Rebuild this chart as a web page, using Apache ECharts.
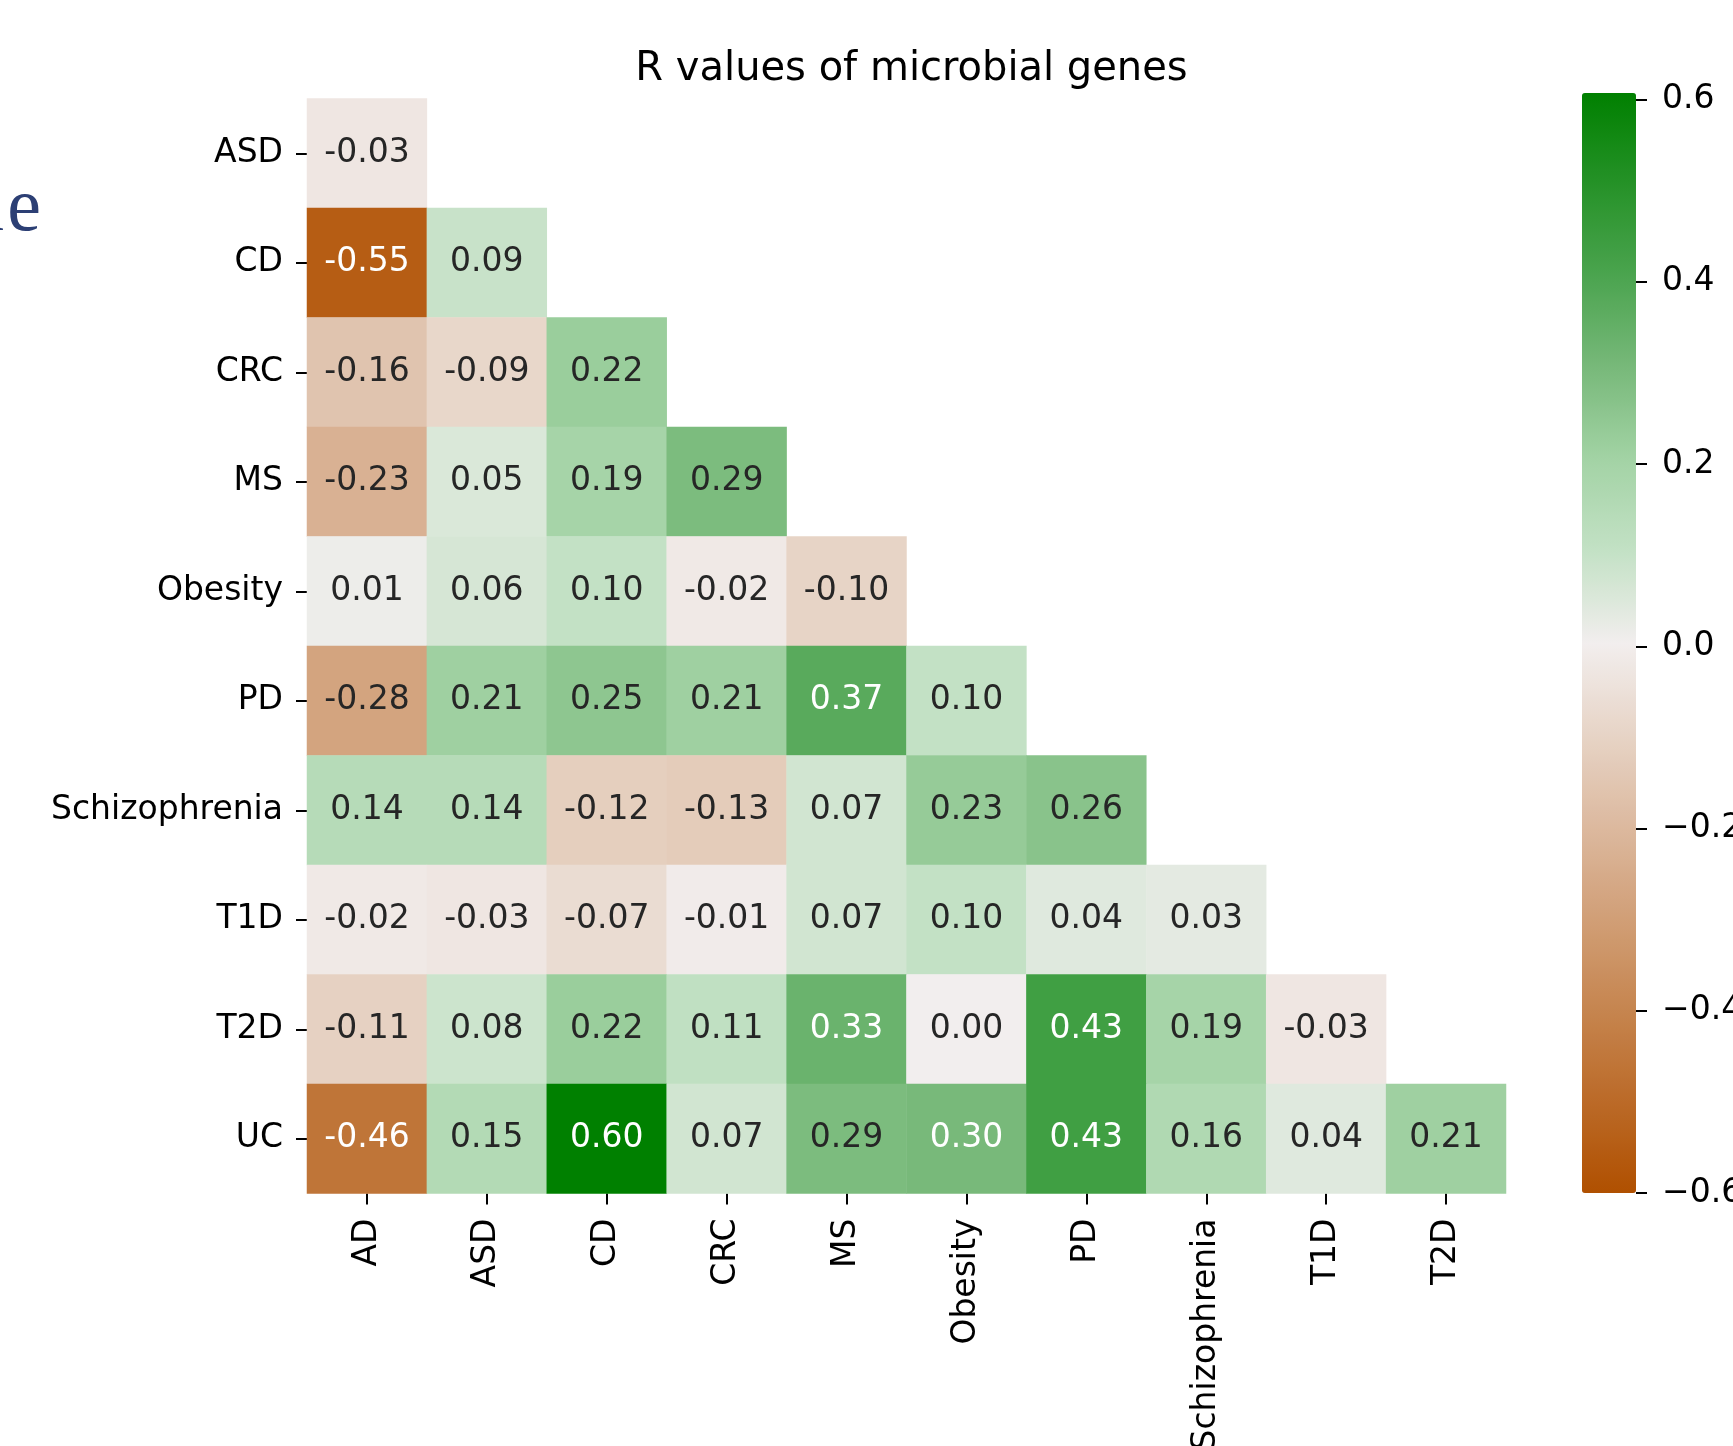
<!DOCTYPE html>
<html>
<head>
<meta charset="utf-8">
<script src="https://cdn.jsdelivr.net/npm/echarts@6/dist/echarts.min.js"></script>
<style>
  html, body { margin: 0; padding: 0; background: #ffffff; }
  #chart { width: 1733px; height: 1446px; }
</style>
</head>
<body>
<div id="chart"></div>
<script>
// Column and row categories of the lower-triangular correlation matrix
const colNames = ['AD', 'ASD', 'CD', 'CRC', 'MS', 'Obesity', 'PD', 'Schizophrenia', 'T1D', 'T2D'];
const rowNames = ['ASD', 'CD', 'CRC', 'MS', 'Obesity', 'PD', 'Schizophrenia', 'T1D', 'T2D', 'UC'];

// R values, one array per row (only the lower triangle is shown)
const rASD = [-0.03];
const rCD = [-0.55, 0.09];
const rCRC = [-0.16, -0.09, 0.22];
const rMS = [-0.23, 0.05, 0.19, 0.29];
const rObesity = [0.01, 0.06, 0.10, -0.02, -0.10];
const rPD = [-0.28, 0.21, 0.25, 0.21, 0.37, 0.10];
const rSchizophrenia = [0.14, 0.14, -0.12, -0.13, 0.07, 0.23, 0.26];
const rT1D = [-0.02, -0.03, -0.07, -0.01, 0.07, 0.10, 0.04, 0.03];
const rT2D = [-0.11, 0.08, 0.22, 0.11, 0.33, 0.00, 0.43, 0.19, -0.03];
const rUC = [-0.46, 0.15, 0.60, 0.07, 0.29, 0.30, 0.43, 0.16, 0.04, 0.21];

// Colour bar range and ticks
const colorbarMin = -0.6;
const colorbarMax = 0.6;
const colorbarStep = 0.2;

// Diverging brown -> off-white -> green colour map, one stop every 0.1
const colorStops = [
  '#b05000', '#bb6a28', '#c6854f', '#d19f77', '#dcb99f', '#e7d4c6', '#f2eeee',
  '#c3e1c5', '#a3d3a5', '#78b97a', '#4ba44f', '#269228', '#008000'
];

const rows = [rASD, rCD, rCRC, rMS, rObesity, rPD, rSchizophrenia, rT1D, rT2D, rUC];

const FONT = '"DejaVu Sans", "Liberation Sans", sans-serif';

const cells = [];
rows.forEach(function (row, yi) {
  row.forEach(function (v, xi) {
    const light = v >= 0.3 || v <= -0.4;
    cells.push({
      value: [xi, yi, v],
      label: { color: light ? '#ffffff' : '#262626' }
    });
  });
});

function fmtTick(v) {
  if (Math.abs(v) < 1e-9) return '0.0';
  const s = v.toFixed(1);
  return s.charAt(0) === '-' ? '\u2212' + s.slice(1) : s;
}

const chart = echarts.init(document.getElementById('chart'), null, { renderer: 'canvas' });

chart.setOption({
  backgroundColor: '#ffffff',
  animation: false,
  title: {
    text: 'R values of microbial genes',
    left: 906.5,
    top: 45,
    textAlign: 'center',
    textStyle: { fontFamily: FONT, fontSize: 40, fontWeight: 'normal', color: '#000000' }
  },
  graphic: [
    {
      type: 'text',
      x: 41,
      y: 248,
      style: {
        text: 'e',
        font: '76px "Liberation Serif", "DejaVu Serif", serif',
        fill: '#2c3f74',
        textAlign: 'right',
        textVerticalAlign: 'bottom'
      }
    },
    {
      type: 'text',
      x: 4,
      y: 248,
      style: {
        text: 'a',
        font: '76px "Liberation Serif", "DejaVu Serif", serif',
        fill: '#2c3f74',
        textAlign: 'right',
        textVerticalAlign: 'bottom'
      }
    }
  ],
  grid: [
    { left: 307, top: 98.5, width: 1199, height: 1095, outerBoundsMode: 'none', containLabel: false },
    { left: 1582, top: 99.5, width: 54, height: 1093.5, outerBoundsMode: 'none', containLabel: false }
  ],
  xAxis: [
    {
      type: 'category',
      gridIndex: 0,
      data: colNames,
      position: 'bottom',
      axisLine: { show: false },
      axisTick: { show: true, alignWithLabel: true, length: 11, lineStyle: { color: '#000', width: 2 } },
      axisLabel: { rotate: 90, margin: 25, fontFamily: FONT, fontSize: 33, color: '#000' },
      splitLine: { show: false },
      splitArea: { show: false }
    },
    {
      type: 'value',
      gridIndex: 1,
      show: false
    }
  ],
  yAxis: [
    {
      type: 'category',
      gridIndex: 0,
      data: rowNames,
      inverse: true,
      axisLine: { show: false },
      axisTick: { show: true, alignWithLabel: true, length: 11, lineStyle: { color: '#000', width: 2 } },
      axisLabel: { margin: 24, fontFamily: FONT, fontSize: 33, color: '#000' },
      splitLine: { show: false },
      splitArea: { show: false }
    },
    {
      type: 'value',
      gridIndex: 1,
      position: 'right',
      min: colorbarMin,
      max: colorbarMax,
      interval: colorbarStep,
      axisLine: { show: false, onZero: false },
      axisTick: { show: true, length: 11, lineStyle: { color: '#000', width: 2 } },
      axisLabel: { margin: 26, fontFamily: FONT, fontSize: 33, color: '#000', formatter: fmtTick },
      splitLine: { show: false }
    }
  ],
  visualMap: {
    type: 'continuous',
    min: colorbarMin,
    max: colorbarMax,
    seriesIndex: 0,
    calculable: false,
    hoverLink: false,
    orient: 'vertical',
    left: 1582,
    top: 93,
    padding: 0,
    itemWidth: 54,
    itemHeight: 1100,
    text: null,
    showLabel: false,
    inRange: { color: colorStops }
  },
  series: [{
    type: 'heatmap',
    xAxisIndex: 0,
    yAxisIndex: 0,
    data: cells,
    label: {
      show: true,
      fontFamily: FONT,
      fontSize: 33,
      formatter: function (p) { return p.value[2].toFixed(2); }
    },
    itemStyle: { borderWidth: 0 },
    emphasis: { disabled: true }
  }]
});
</script>
</body>
</html>
